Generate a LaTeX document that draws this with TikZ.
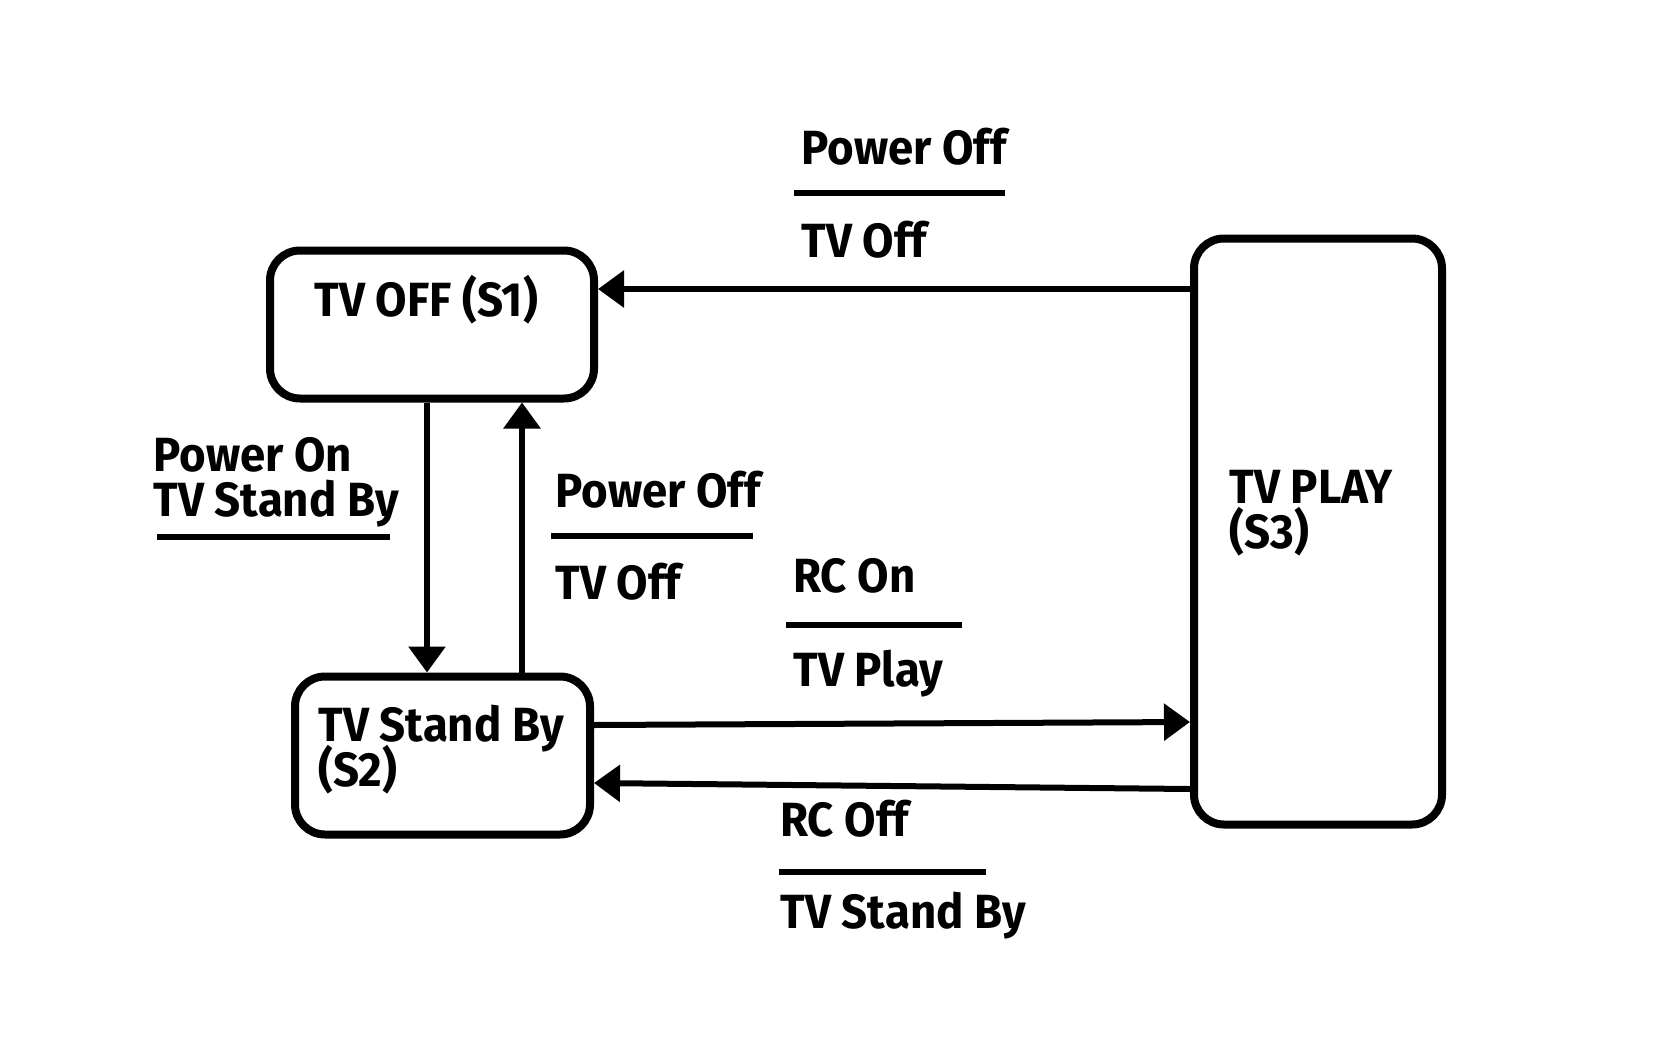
\documentclass[tikz,border=0pt]{standalone}
\usepackage{fontspec}
\setmainfont{Fira Sans}[FakeStretch=0.95]
\usetikzlibrary{arrows.meta, positioning, calc}
\newcommand{\tightlines}{\lineskiplimit=-20pt\relax}

\begin{document}
\begin{tikzpicture}[
    x=0.5pt, y=-0.5pt,
    font=\fontsize{24}{22.5}\selectfont\bfseries\tightlines,
    >={Triangle[length=13pt,width=18pt]},
    state/.style={draw=black, line width=4pt, rounded corners=15pt, fill=white},
    flow/.style={->, line width=3pt, draw=black},
    bar/.style={line width=3pt, draw=black},
    txt/.style={anchor=base west, inner sep=0pt},
    boxtext/.style={anchor=west, align=left, inner sep=0pt}
  ]
  \useasboundingbox (0,0) rectangle (1680,1060);

  % ===== STATES =====
  \node[state, minimum width=162pt, minimum height=74pt] (s1) at (432,324.5) {};
  \node[txt] (s1txt) at (314,316) {TV OFF (S1)};

  \node[state, minimum width=147.5pt, minimum height=79pt] (s2) at (442.5,755.5) {};
  \node[boxtext] (s2txt) at (318,750) {TV Stand By\\(S2)};

  \node[state, minimum width=124pt, minimum height=293pt] (s3) at (1318,531.5) {};
  \node[boxtext] (s3txt) at (1229,513) {TV PLAY\\(S3)};

  % ===== TRANSITIONS =====
  \draw[flow] (s3.west |- 0,289) -- (s1.east |- 0,289);
  \draw[flow] (s1.south -| 427,0) -- (s2.north -| 427,0);
  \draw[flow] (s2.north -| 522,0) -- (s1.south -| 522,0);
  \draw[flow] (s2.east |- 0,725) -- (s3.west |- 0,722);
  \draw[flow] (s3.west |- 0,789) -- (s2.east |- 0,783);

  % ===== LABELS =====
  % S3 -> S1
  \node[txt] (poff1) at (801,164) {Power Off};
  \draw[bar] (794,193) -- (1005,193);
  \node[txt] (tvoff1) at (801,257) {TV Off};

  % S1 -> S2
  \node[txt] (pon) at (153,471) {Power On};
  \node[txt] (tvsb1) at (153,516) {TV Stand By};
  \draw[bar] (157,537) -- (390,537);

  % S2 -> S1
  \node[txt] (poff2) at (555,507) {Power Off};
  \draw[bar] (551,536) -- (753,536);
  \node[txt] (tvoff2) at (555,599) {TV Off};

  % S2 -> S3
  \node[txt] (rcon) at (793,592) {RC On};
  \draw[bar] (786,625) -- (962,625);
  \node[txt] (tvplay) at (793,686) {TV Play};

  % S3 -> S2
  \node[txt] (rcoff) at (780,836) {RC Off};
  \draw[bar] (779,872) -- (986,872);
  \node[txt] (tvsb2) at (780,928) {TV Stand By};

\end{tikzpicture}
\end{document}
